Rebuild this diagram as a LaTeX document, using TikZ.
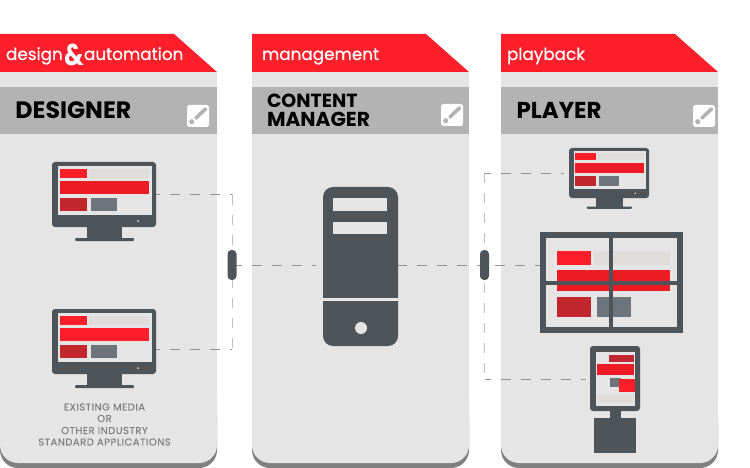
\documentclass[tikz,border=0pt]{standalone}
\usepackage{fontspec}
\setmainfont{Poppins}
\newfontfamily\headfont[FakeBold=0.6]{Poppins}
\newfontfamily\notefont[LetterSpace=5,FakeBold=0.3]{Poppins}
\definecolor{hdr}{HTML}{FF1F2B}
\definecolor{redb}{HTML}{ED1C24}
\definecolor{redd}{HTML}{C1272D}
\definecolor{slate}{HTML}{6D747B}
\definecolor{dark}{HTML}{4E555A}
\definecolor{lite}{HTML}{DFDCD9}
\definecolor{panel}{HTML}{E5E5E5}
\definecolor{band}{HTML}{B3B3B3}
\definecolor{edgegray}{HTML}{808080}
\tikzset{
  every node/.style={inner sep=0pt,outer sep=0pt},
  conn/.style={draw=edgegray!85,line width=0.8pt,dash pattern=on 10pt off 10pt},
  connv/.style={draw=edgegray!50,line width=1pt,dash pattern=on 10pt off 10pt},
  hub/.style={fill=dark,rounded corners=4pt,minimum width=9pt,minimum height=30pt},
  solidbody/.style={fill=dark,rectangle},
  head/.style={text=white,anchor=base west,font=\headfont\fontsize{16.8}{18}\selectfont},
  title/.style={text=black,anchor=base west,font=\fontsize{23}{23}\selectfont\bfseries},
  titlesm/.style={text=black,anchor=base west,font=\fontsize{19}{18}\selectfont\bfseries},
  note/.style={text=edgegray,font=\notefont\fontsize{10}{10}\selectfont},
}
\newcommand\colpanel[2]{% left x, width
  \fill[edgegray,rounded corners=18pt] (#1,400) rectangle (#1+#2,468);
  \fill[panel,rounded corners=18pt] (#1,380) rectangle (#1+#2,463);
  \fill[panel] (#1,72) rectangle (#1+#2,420);
  \fill[band] (#1,87) rectangle (#1+#2,134);
  \fill[hdr] (#1,34) -- (#1+#2-43,34) -- (#1+#2,72) -- (#1,72) -- cycle;
}
\newcommand\pencil[3]{% name, x, y (top-left)
  \node[fill=white,rounded corners=2.5pt,minimum width=22pt,minimum height=22pt,anchor=north west] (#1) at (#2,#3) {};
  \draw[band,line width=3.6pt,line cap=round] (#2+18.5,#3+4) -- (#2+9,#3+13);
  \fill[band] (#2+4.7,#3+16.7) circle (2.5);
}
\newcommand\monitor[5]{% name, x, y, scale, main bar colour
  \node[solidbody,rounded corners=3pt,minimum width=#4*104pt,minimum height=#4*65pt,anchor=north west] (#1) at (#2,#3) {};
  \begin{scope}[shift={(#2,#3)},scale=#4]
    \fill[dark] (35,65) rectangle (70,77);
    \fill[dark,rounded corners=1pt] (23,76) rectangle (82,79);
    \fill[panel] (6,4) rectangle (100,53);
    \fill[hdr] (8,7) rectangle (35,16);
    \fill[lite] (37,7) rectangle (97,16);
    \fill[#5] (8,19) rectangle (97,32);
    \fill[redd] (8,36) rectangle (35,49);
    \fill[slate] (39,36) rectangle (65,49);
    \fill[panel] (86,59) circle (1);
  \end{scope}
}
\begin{document}
\begin{tikzpicture}[x=1pt,y=-1pt]
\useasboundingbox (0,0) rectangle (750,468);
\fill[white] (0,0) rectangle (750,468);
\colpanel{0}{217}
\colpanel{252}{217}
\colpanel{501}{217}

% headers
\node[head] (h1a) at (6,60) {design};
\node[text=white,font=\fontsize{30}{30}\selectfont\bfseries,anchor=base] (h1b) at (74,66) {\scalebox{0.82}[1]{\&}};
\node[head] (h1c) at (84,60) {automation};
\node[head] (h2) at (262,60) {management};
\node[head] (h3) at (507,60) {playback};
\node[title,font=\fontsize{23.7}{23}\selectfont\bfseries] (t1) at (15.5,119) {DESIGNER};
\node[titlesm] (t2a) at (267,108) {CONTENT};
\node[titlesm,font=\fontsize{20.2}{18}\selectfont\bfseries] (t2b) at (267,127) {MANAGER};
\node[title] (t3) at (516.5,119) {PLAYER};
\pencil{p1}{187}{105}
\pencil{p2}{441}{104}
\pencil{p3}{693}{105}

% connector anchors
\coordinate (d1) at (156,194.5);
\coordinate (d2) at (156,349);
\coordinate (c1) at (232,194.5);
\coordinate (c2) at (232,349);
\coordinate (sl) at (315.5,265.5);
\coordinate (sr) at (398,265.5);
\coordinate (wl) at (540,265.5);
\coordinate (q1) at (484.5,173);
\coordinate (q2) at (484.5,379);
\coordinate (pm) at (564,173);
\coordinate (pk) at (586,379);
\node[hub] (hubL) at (232,265) {};
\node[hub] (hubR) at (484.5,265) {};

\draw[conn,dash phase=6pt] (d1) -- (c1);
\draw[connv] (c1) -- (hubL.north);
\draw[connv,dash phase=2pt] (hubL.south) -- (c2);
\draw[conn,dash phase=6pt] (d2) -- (c2);
\draw[conn,dash phase=4.5pt] (hubL.east |- sl) -- (sl);
\draw[conn,dash phase=1pt] (sr) -- (hubR.west |- sr);
\draw[conn,dash phase=14pt] (hubR.east |- wl) -- (wl);
\draw[conn,dash phase=4pt] (q1) -- (pm);
\draw[connv] (q1) -- (hubR.north);
\draw[connv,dash phase=17pt] (hubR.south) -- (q2);
\draw[conn,dash phase=4pt] (q2) -- (pk);

% designer monitors
\monitor{m1}{52}{162}{1}{redb}
\monitor{m2}{52}{309}{1}{hdr}
\node[note] (n1) at (104.5,407) {EXISTING MEDIA};
\node[note] (n0) at (104.5,418.5) {OR};
\node[note] (n2) at (104.5,430.5) {OTHER INDUSTRY};
\node[note] (n3) at (104.5,442) {STANDARD APPLICATIONS};

% server
\node[solidbody,rounded corners=10pt,minimum width=75pt,minimum height=159pt,anchor=north west] (srv) at (323,187) {};
\fill[panel] (333,198) rectangle (387,211);
\fill[panel] (333,222) rectangle (387,234);
\fill[panel] (323,298) rectangle (398,301);
\fill[panel] (361,328) circle (6);

% player monitor
\monitor{m3}{569}{148}{0.77}{redb}

% video wall
\fill[hdr] (557,251) rectangle (591,265);
\fill[lite] (594,251) rectangle (670,265);
\fill[redb] (557,270) rectangle (670,291);
\fill[redd] (557,297) rectangle (591,317);
\fill[slate] (597,297) rectangle (631,317);
\node[draw=dark,line width=6pt,rectangle,minimum width=137pt,minimum height=95pt] (wall) at (611.5,282.5) {};
\fill[dark] (609,235) rectangle (613,330);
\fill[dark] (543,281) rectangle (683,285);

% kiosk
\fill[dark] (610,408) rectangle (621,420);
\node[solidbody,minimum width=42pt,minimum height=35pt,anchor=north west] (kb) at (594,418) {};
\node[solidbody,rounded corners=3pt,minimum width=50pt,minimum height=65pt,anchor=north west] (ks) at (590,346) {};
\fill[panel] (596,352) rectangle (635,406);
\fill[redd] (609,355) rectangle (634,362);
\fill[redb] (597,364) rectangle (634,375);
\fill[slate] (610,378) rectangle (621,387);
\fill[hdr] (619,379) rectangle (635,392);
\fill[lite] (597,394) rectangle (634,403);
\end{tikzpicture}
\end{document}
